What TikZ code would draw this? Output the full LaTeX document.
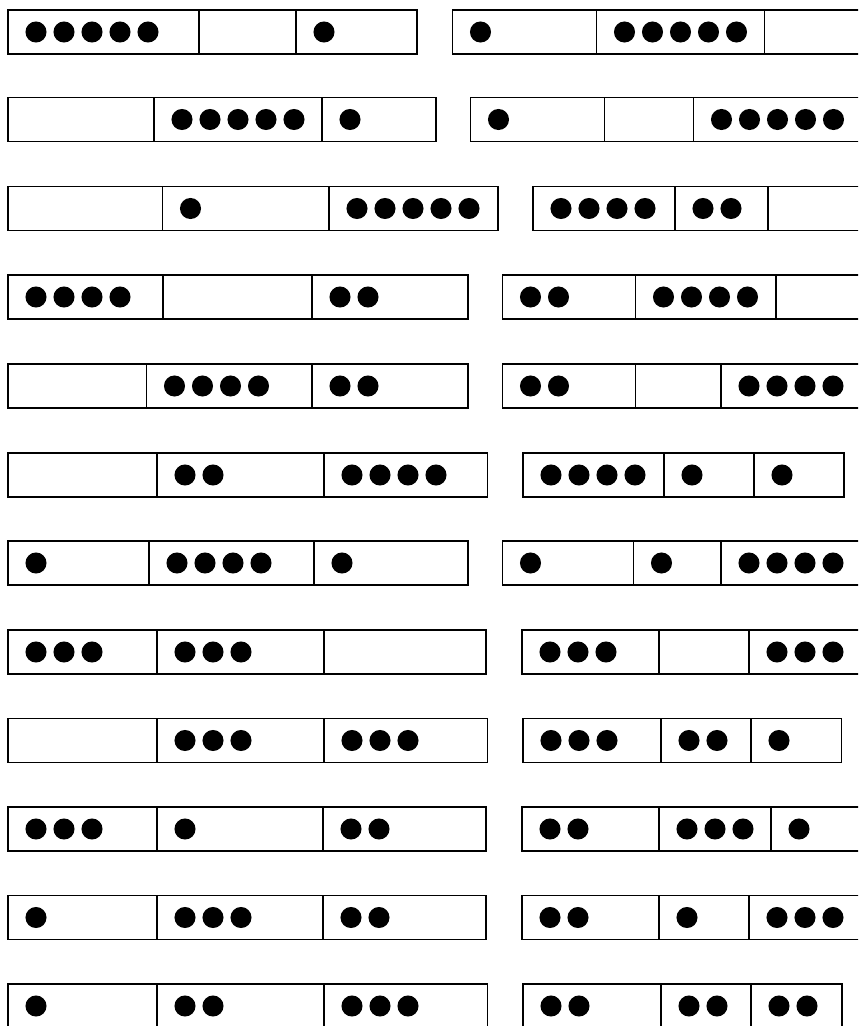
\documentclass[tikz,border=0pt]{standalone}

% beads: left edge of the cell, middle line, how many
\newcommand{\putbeads}[3]{%
  \ifnum#3>0 \foreach \k in {1,...,#3}{\fill[bead] (#1+28*\k,#2) circle[radius=7.9pt];}\fi}

\begin{document}
\begin{tikzpicture}[x=0.75pt, y=-0.75pt,
  tray/.style={draw=black, line width=1.3pt},
  wall/.style={draw=black, line width=1.1pt},
  bead/.style={black}]
\useasboundingbox (0,0) rectangle (858,1026);
\clip (0,0) rectangle (858,1026);
% left trays: top / edges of the three cells / beads per cell
\foreach \t/\a/\b/\c/\d/\p/\q/\r in {
   10/8/199/296/417/5/0/1,
   97.5/8/154/322/436/0/5/1,
   186.5/8/162.5/329/498/0/1/5,
   275/8/163/312/468/4/0/2,
   364/8/146.5/312/468/0/4/2,
   453/8/157/324/487.5/0/2/4,
   541/8/149/314/468/1/4/1,
   630/8/157/324/486/3/3/0,
   718.5/8/157/324/487.5/0/3/3,
   807/8/157/323/486/3/1/2,
   895.5/8/157/323/486/1/3/2,
   984/8/157/324/487.5/1/2/3}{
  \draw[tray] (\a,\t) rectangle (\d,\t+44);
  \draw[wall] (\b,\t) -- (\b,\t+44) (\c,\t) -- (\c,\t+44);
  \putbeads{\a}{\t+22}{\p}
  \putbeads{\b}{\t+22}{\q}
  \putbeads{\c}{\t+22}{\r}
}
% right trays (most run off the page)
\foreach \t/\a/\b/\c/\d/\p/\q/\r in {
   10/452.5/596.5/764.5/880/1/5/0,
   97.5/470.5/604.5/693.5/880/1/0/5,
   186.5/533/675/768/880/4/2/0,
   275/502.5/635.5/776/880/2/4/0,
   364/502.5/635.5/721/880/2/0/4,
   453/523/664/754/844/4/1/1,
   541/502.5/633.5/721/880/1/1/4,
   630/522/659/749/880/3/0/3,
   718.5/523/661/751/841.5/3/2/1,
   807/522/659/771/880/2/3/1,
   895.5/522/659/749/880/2/1/3,
   984/523/661/751/842/2/2/2}{
  \draw[tray] (\a,\t) rectangle (\d,\t+44);
  \draw[wall] (\b,\t) -- (\b,\t+44) (\c,\t) -- (\c,\t+44);
  \putbeads{\a}{\t+22}{\p}
  \putbeads{\b}{\t+22}{\q}
  \putbeads{\c}{\t+22}{\r}
}
\end{tikzpicture}
\end{document}
